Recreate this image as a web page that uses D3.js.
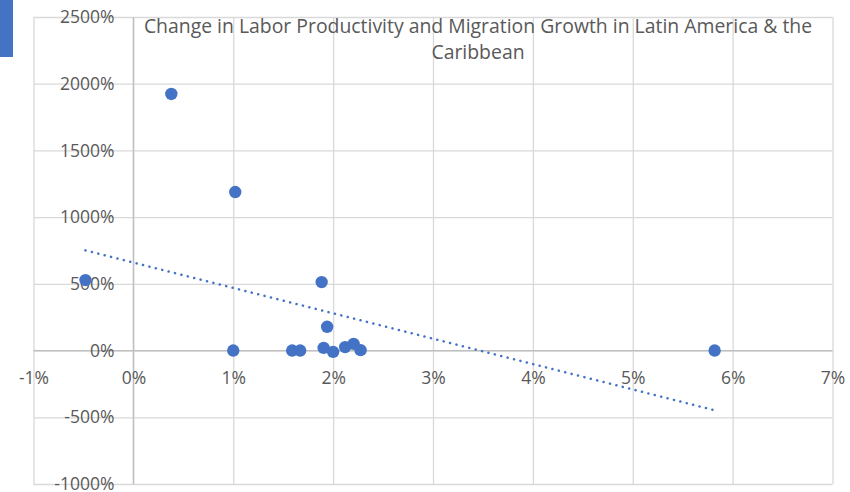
<!DOCTYPE html>
<html>
<head>
<meta charset="utf-8">
<script src="https://cdn.jsdelivr.net/npm/d3@7"></script>
<style>
  html, body { margin: 0; padding: 0; background: #fff; }
  svg { display: block; }
  text { font-family: "Open Sans", "Noto Sans", sans-serif; fill: #595959; }
</style>
</head>
<body>
<svg id="chart" width="850" height="492"></svg>
<script>
// Change in labor productivity (%) vs. migration growth (%) by country
const productivityChange = [-0.48, 0.38, 1.02, 1.00, 1.59, 1.67, 1.885, 1.905, 1.94, 2.00, 2.12, 2.205, 2.275, 5.82];
const migrationGrowth    = [528, 1923, 1188, 0, 0, 0, 513, 20, 178, -10, 26, 50, 3, 0];

const xTicks = [-1, 0, 1, 2, 3, 4, 5, 6, 7];
const yTicks = [-1000, -500, 0, 500, 1000, 1500, 2000, 2500];

const titleLines = ["Change in Labor Productivity and Migration Growth in Latin America & the", "Caribbean"];

const blue = "#4472C4";
const svg = d3.select("#chart");

const x = d3.scaleLinear().domain([-1, 7]).range([33.5, 832.5]);
const y = d3.scaleLinear().domain([-1000, 2500]).range([484, 17]);

// accent block in the top-left corner
svg.append("rect").attr("x", 0).attr("y", 0).attr("width", 13).attr("height", 57).attr("fill", blue);

// gridlines
const gx = svg.append("g").attr("transform", `translate(0,${y(-1000)})`)
  .call(d3.axisBottom(x).tickValues(xTicks).tickSize(-(y(-1000) - y(2500))).tickFormat(""));
const gy = svg.append("g").attr("transform", `translate(${x(-1)},0)`)
  .call(d3.axisLeft(y).tickValues(yTicks).tickSize(-(x(7) - x(-1))).tickFormat(""));
[gx, gy].forEach(g => {
  g.select(".domain").remove();
  g.selectAll(".tick line").attr("stroke", "#d9d9d9").attr("stroke-width", 1.3);
});

// axis lines crossing at zero
svg.append("line").attr("x1", x(-1)).attr("x2", x(7)).attr("y1", y(0)).attr("y2", y(0))
  .attr("stroke", "#bfbfbf").attr("stroke-width", 1.3);
svg.append("line").attr("x1", x(0)).attr("x2", x(0)).attr("y1", y(-1000)).attr("y2", y(2500))
  .attr("stroke", "#bfbfbf").attr("stroke-width", 1.3);

// tick labels
const xl = svg.append("g").attr("transform", `translate(0,${y(0)})`)
  .call(d3.axisBottom(x).tickValues(xTicks).tickSize(0).tickPadding(21).tickFormat(d => d + "%"));
const yl = svg.append("g").attr("transform", `translate(${x(0)},0)`)
  .call(d3.axisLeft(y).tickValues(yTicks).tickSize(0).tickPadding(19).tickFormat(d => d + "%"));
[xl, yl].forEach(g => {
  g.select(".domain").remove();
  g.selectAll(".tick text").attr("font-size", 17.5).attr("fill", "#595959")
    .attr("font-family", "\"Open Sans\", sans-serif");
});

// points
const pts = productivityChange.map((v, i) => [v, migrationGrowth[i]]);
svg.append("g").selectAll("circle").data(pts).join("circle")
  .attr("cx", d => x(d[0])).attr("cy", d => y(d[1])).attr("r", 6.2).attr("fill", blue);

// least-squares linear trendline
const mx = d3.mean(productivityChange), my = d3.mean(migrationGrowth);
const sxy = d3.sum(pts, d => (d[0] - mx) * (d[1] - my));
const sxx = d3.sum(pts, d => (d[0] - mx) ** 2);
const slope = sxy / sxx, intercept = my - slope * mx;
const [x0, x1] = d3.extent(productivityChange);
svg.append("line")
  .attr("x1", x(x0)).attr("y1", y(intercept + slope * x0))
  .attr("x2", x(x1)).attr("y2", y(intercept + slope * x1))
  .attr("stroke", blue).attr("stroke-width", 2.5)
  .attr("stroke-linecap", "round").attr("stroke-dasharray", "0.1 6.5");

// title
svg.append("text").attr("x", 478).attr("y", 33).attr("text-anchor", "middle")
  .attr("font-size", 19.4).selectAll("tspan").data(titleLines).join("tspan")
  .attr("x", 478).attr("dy", (d, i) => i ? 26 : 0).text(d => d);
</script>
</body>
</html>
